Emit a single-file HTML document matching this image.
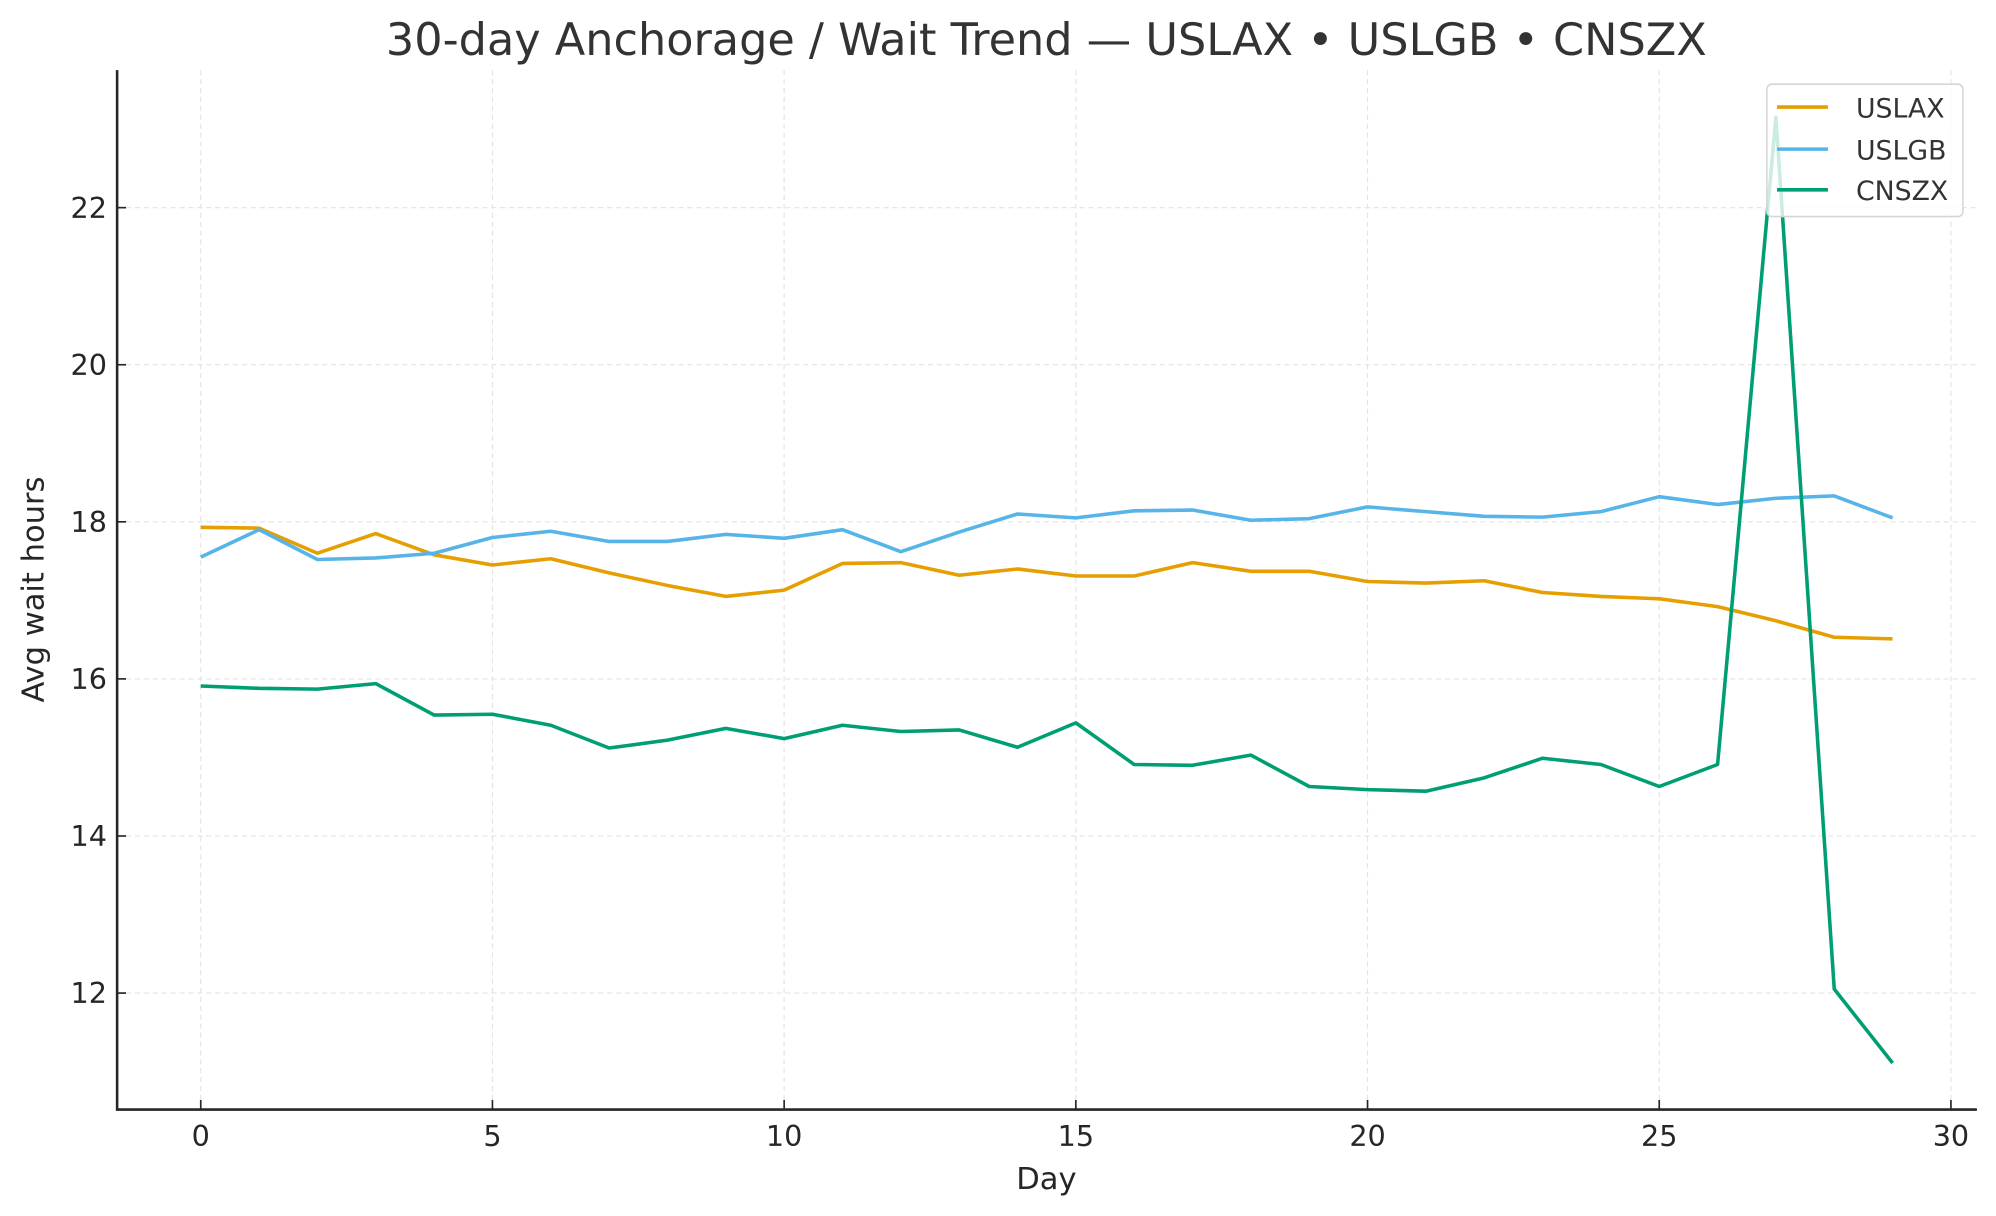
<!DOCTYPE html>
<html><head><meta charset="utf-8"><style>html,body{margin:0;padding:0;background:#fff}svg{display:block}</style></head>
<body>
<svg id="s" width="1996" height="1216" viewBox="0 0 1568 955" xmlns="http://www.w3.org/2000/svg" font-family="DejaVu Sans, Liberation Sans, sans-serif">
<rect width="1568" height="955" fill="#fff"/>
<g id="grid" stroke="#e3e3e3" stroke-width="0.9" stroke-dasharray="4,3"></g>
<g id="lines" fill="none" stroke-width="2.8" stroke-linejoin="round"></g>
<rect x="1388" y="66" width="154" height="104" rx="4" fill="#fff" fill-opacity="0.8" stroke="#d6d6d6" stroke-width="1.2"/>
<line x1="1396" y1="84" x2="1436" y2="84" stroke="#E69F00" stroke-width="2.8"/>
<line x1="1396" y1="117" x2="1436" y2="117" stroke="#56B4E9" stroke-width="2.8"/>
<line x1="1396" y1="149" x2="1436" y2="149" stroke="#009E73" stroke-width="2.8"/>
<text x="1458" y="92" font-size="21" fill="#333">USLAX</text>
<text x="1458" y="125" font-size="21" fill="#333">USLGB</text>
<text x="1458" y="157" font-size="21" fill="#333">CNSZX</text>
<path d="M92 55 V871.5 H1553" fill="none" stroke="#262626" stroke-width="2"/>
<g id="ticks" stroke="#262626" stroke-width="1.3"></g>
<g id="lbl" font-size="22.5" fill="#262626"></g>
<text x="822" y="43" font-size="35" fill="#333" text-anchor="middle">30-day Anchorage / Wait Trend — USLAX • USLGB • CNSZX</text>
<text x="822" y="934" font-size="24" fill="#262626" text-anchor="middle">Day</text>
<text x="34" y="463" font-size="24" fill="#262626" text-anchor="middle" transform="rotate(-90 34 463)">Avg wait hours</text>
</svg>
<script>
const NS="http://www.w3.org/2000/svg";
const X=d=>157.7+d*45.83, Y=v=>163-(v-22)*61.7;
function el(p,t,a,txt){const e=document.createElementNS(NS,t);for(const k in a)e.setAttribute(k,a[k]);if(txt!==undefined)e.textContent=txt;document.getElementById(p).appendChild(e);}
for(let d=0;d<=30;d+=5){el('grid','line',{x1:X(d),x2:X(d),y1:55,y2:871});el('ticks','line',{x1:X(d),x2:X(d),y1:871,y2:864});el('lbl','text',{x:X(d),y:900,'text-anchor':'middle'},d);}
for(let v=12;v<=22;v+=2){el('grid','line',{x1:92,x2:1553,y1:Y(v),y2:Y(v)});el('ticks','line',{x1:92,x2:99,y1:Y(v),y2:Y(v)});el('lbl','text',{x:84,y:Y(v)+8,'text-anchor':'end'},v);}
const S={"#E69F00":[17.93,17.92,17.6,17.85,17.58,17.45,17.53,17.35,17.19,17.05,17.13,17.47,17.48,17.32,17.40,17.31,17.31,17.48,17.37,17.37,17.24,17.22,17.25,17.10,17.05,17.02,16.92,16.74,16.53,16.51],
"#56B4E9":[17.55,17.9,17.52,17.54,17.60,17.80,17.88,17.75,17.75,17.84,17.79,17.90,17.62,17.87,18.10,18.05,18.14,18.15,18.02,18.04,18.19,18.13,18.07,18.06,18.13,18.32,18.22,18.30,18.33,18.05],
"#009E73":[15.91,15.88,15.87,15.94,15.54,15.55,15.41,15.12,15.22,15.37,15.24,15.41,15.33,15.35,15.13,15.44,14.91,14.9,15.03,14.63,14.59,14.57,14.74,14.99,14.91,14.63,14.91,23.15,12.05,11.11]};
for(const c in S)el('lines','polyline',{stroke:c,points:S[c].map((v,i)=>X(i)+','+Y(v)).join(' ')});
</script>
</body></html>
